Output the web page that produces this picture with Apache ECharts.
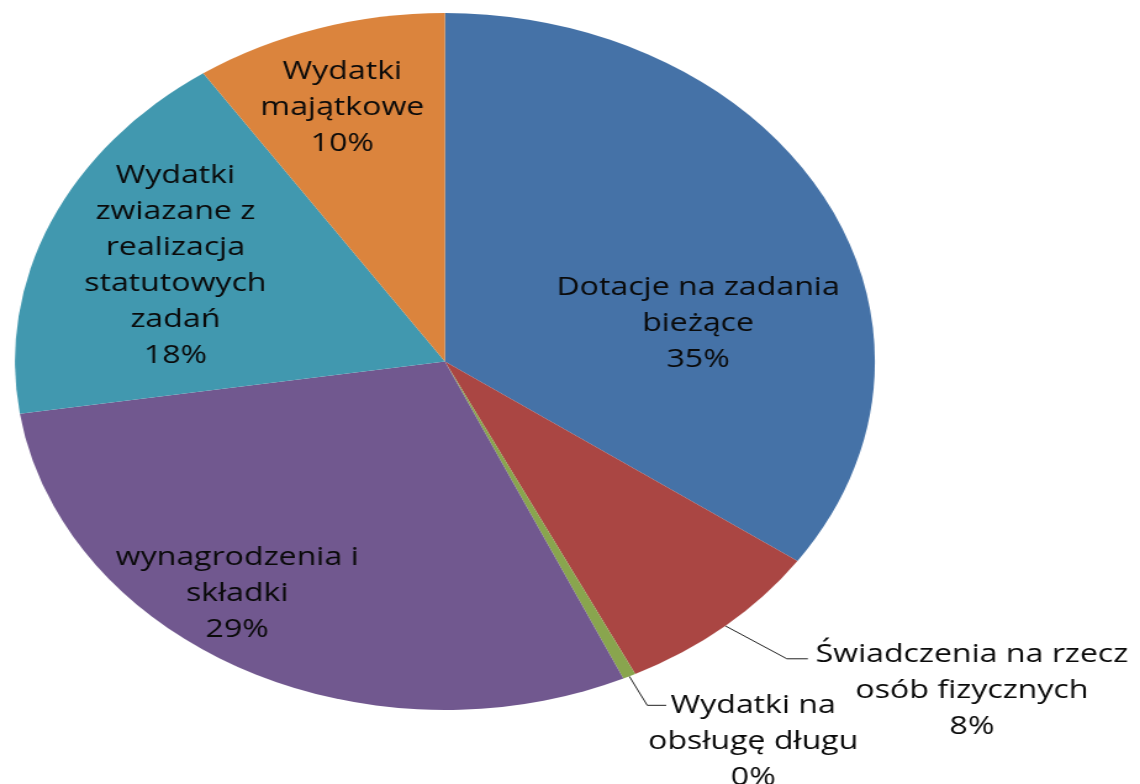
<!DOCTYPE html>
<html>
<head>
<meta charset="utf-8">
<style>
  html, body { margin: 0; padding: 0; background: #fff; overflow: hidden; }
  /* the reference is a round pie stretched sideways, so draw it round and stretch the canvas */
  #chart { width: 924px; height: 784px; transform: scaleX(1.2338); transform-origin: 0 0; }
</style>
<script src="https://cdn.jsdelivr.net/npm/echarts@6/dist/echarts.min.js"></script>
</head>
<body>
<div id="chart"></div>
<script>
var categories = [
    'Dotacje na zadania\nbieżące',
    'Świadczenia na rzecz\nosób fizycznych',
    'Wydatki na\nobsługę długu',
    'wynagrodzenia i\nskładki',
    'Wydatki\nzwiazane z\nrealizacja\nstatutowych\nzadań',
    'Wydatki\nmajątkowe'
];
var values = [34.7, 8.0, 0.49, 29.41, 17.9, 9.5];
var colors = ['#4572A7', '#AA4643', '#89A54E', '#71588F', '#4198AF', '#DB843D'];
var outside = [false, true, true, false, false, false];

// label nudges (inside labels: dx/dy; outside: elbow, tail, text offset)
var insideShift = {0: [48, 44], 3: [-84, 76], 4: [-56, -25], 5: [-31, -84]};
var outsideLine = {
    1: {elbow: [50, 33], tail: 17, textDx: 133, textDy: -22},
    2: {elbow: [14.5, 29], tail: 15.4, textDx: 70.5, textDy: -18}
};

var chart = echarts.init(document.getElementById('chart'));

var data = values.map(function (v, i) {
    return {
        value: v,
        name: categories[i],
        itemStyle: {color: colors[i]},
        label: {position: outside[i] ? 'outside' : 'inside'},
        labelLine: {show: outside[i]}
    };
});

chart.setOption({
    animation: false,
    series: [{
        type: 'pie',
        center: [360.6, 361.5],
        radius: 348.5,
        startAngle: 90,
        clockwise: true,
        avoidLabelOverlap: false,
        data: data,
        itemStyle: {borderWidth: 0},
        label: {
            show: true,
            color: '#0a0a0a',
            fontFamily: 'Open Sans',
            fontSize: 26,
            lineHeight: 36,
            align: 'center',
            overflow: 'none',
            formatter: function (p) {
                return p.name + '\n' + Math.round(p.percent) + '%';
            }
        },
        labelLine: {
            lineStyle: {color: '#222', width: 1}
        },
        labelLayout: function (params) {
            var i = params.dataIndex;
            if (insideShift[i]) {
                return {dx: insideShift[i][0], dy: insideShift[i][1]};
            }
            var o = outsideLine[i];
            if (o && params.labelLinePoints) {
                var p0 = params.labelLinePoints[0];
                var p1 = [p0[0] + o.elbow[0], p0[1] + o.elbow[1]];
                var p2 = [p1[0] + o.tail, p1[1]];
                return {
                    x: p2[0] + o.textDx,
                    y: p2[1] + o.textDy,
                    align: 'center',
                    verticalAlign: 'top',
                    labelLinePoints: [p0, p1, p2]
                };
            }
        }
    }]
});
</script>
</body>
</html>
